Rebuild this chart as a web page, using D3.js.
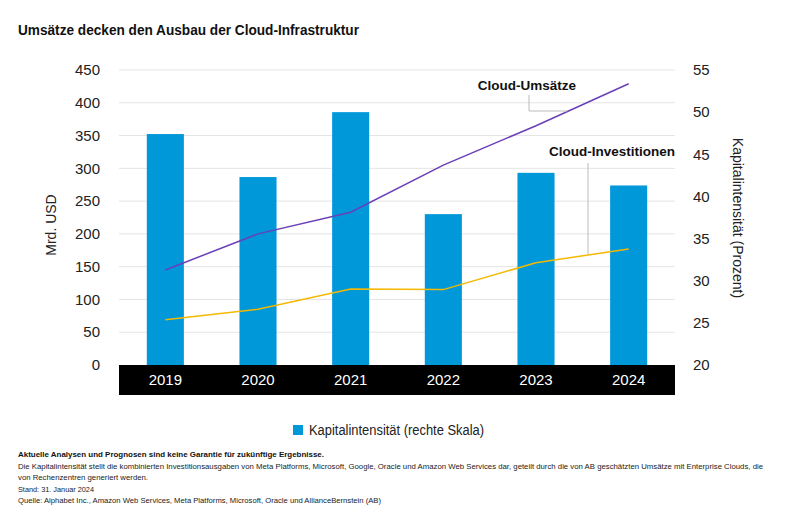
<!DOCTYPE html>
<html>
<head>
<meta charset="utf-8">
<script src="https://cdn.jsdelivr.net/npm/d3@7"></script>
<style>
  body { margin: 0; background: #fff; }
  text { font-family: "Liberation Sans", Arial, sans-serif; }
</style>
</head>
<body>
<div id="chart"></div>
<script>
// data
const years = ["2019", "2020", "2021", "2022", "2023", "2024"];
const kapitalintensitaet = [47.4, 42.3, 50.0, 37.9, 42.8, 41.3]; // rechte Skala, Prozent
const cloudUmsaetze = [145, 200, 233, 305, 365, 429]; // Mrd. USD
const cloudInvestitionen = [69, 85, 116, 115, 156, 177]; // Mrd. USD
const leftTicks = [0, 50, 100, 150, 200, 250, 300, 350, 400, 450];
const rightTicks = [20, 25, 30, 35, 40, 45, 50, 55];
const footnotes = [
  "Die Kapitalintensität stellt die kombinierten Investitionsausgaben von Meta Platforms, Microsoft, Google, Oracle und Amazon Web Services dar, geteilt durch die von AB geschätzten Umsätze mit Enterprise Clouds, die",
  "von Rechenzentren generiert werden.",
  "Stand: 31. Januar 2024",
  "Quelle: Alphabet Inc., Amazon Web Services, Meta Platforms, Microsoft, Oracle und AllianceBernstein (AB)"
];

const W = 790, H = 531;
const plotLeft = 119, plotRight = 675, plotTop = 70, plotBottom = 365;

const svg = d3.select("#chart").append("svg")
  .attr("width", W).attr("height", H);

// title
svg.append("text")
  .attr("x", 18).attr("y", 35)
  .attr("font-family", "'DejaVu Sans Condensed', 'DejaVu Sans', sans-serif")
  .attr("font-weight", "bold")
  .attr("font-size", 14)
  .attr("fill", "#111")
  .attr("textLength", 341)
  .attr("lengthAdjust", "spacingAndGlyphs")
  .text("Umsätze decken den Ausbau der Cloud-Infrastruktur");

const x = d3.scaleBand().domain(years).range([plotLeft, plotRight])
  .paddingInner(0.6).paddingOuter(0.3);
const yL = d3.scaleLinear().domain([0, 450]).range([plotBottom, plotTop]);
const yR = d3.scaleLinear().domain([20, 55]).range([plotBottom, plotTop]);

// gridlines
svg.append("g").selectAll("line")
  .data(leftTicks.slice(1))
  .enter().append("line")
  .attr("x1", plotLeft).attr("x2", plotRight)
  .attr("y1", (d) => yL(d)).attr("y2", (d) => yL(d))
  .attr("stroke", "#e4e4e4").attr("stroke-width", 1);

// left tick labels
svg.append("g").selectAll("text")
  .data(leftTicks)
  .enter().append("text")
  .attr("x", 100).attr("y", (d) => yL(d))
  .attr("dy", "0.35em")
  .attr("text-anchor", "end")
  .attr("font-size", 15)
  .attr("fill", "#222")
  .text((d) => d);

// right tick labels
svg.append("g").selectAll("text")
  .data(rightTicks)
  .enter().append("text")
  .attr("x", 693).attr("y", (d) => yR(d))
  .attr("dy", "0.35em")
  .attr("font-size", 15)
  .attr("fill", "#222")
  .text((d) => d);

// axis titles
svg.append("text")
  .attr("transform", "translate(56,225) rotate(-90)")
  .attr("text-anchor", "middle")
  .attr("font-size", 14)
  .attr("fill", "#222")
  .text("Mrd. USD");

svg.append("text")
  .attr("transform", "translate(733,218) rotate(90)")
  .attr("text-anchor", "middle")
  .attr("font-size", 14)
  .attr("fill", "#222")
  .text("Kapitalintensität (Prozent)");

// bars (rechte Skala)
svg.append("g").selectAll("rect")
  .data(kapitalintensitaet)
  .enter().append("rect")
  .attr("x", (d, i) => x(years[i]))
  .attr("y", (d) => yR(d))
  .attr("width", x.bandwidth())
  .attr("height", (d) => plotBottom - yR(d))
  .attr("fill", "#0098d9");

// black x-axis band
svg.append("rect")
  .attr("x", plotLeft).attr("y", plotBottom)
  .attr("width", plotRight - plotLeft).attr("height", 30)
  .attr("fill", "#000");

svg.append("g").selectAll("text")
  .data(years)
  .enter().append("text")
  .attr("x", (d) => x(d) + x.bandwidth() / 2)
  .attr("y", plotBottom + 15)
  .attr("dy", "0.35em")
  .attr("text-anchor", "middle")
  .attr("font-size", 15)
  .attr("fill", "#fff")
  .text((d) => d);

// lines
const line = d3.line()
  .x((d, i) => x(years[i]) + x.bandwidth() / 2)
  .y((d) => yL(d));

svg.append("path")
  .datum(cloudUmsaetze)
  .attr("d", line)
  .attr("fill", "none")
  .attr("stroke", "#6a3fb8")
  .attr("stroke-width", 1.5);

svg.append("path")
  .datum(cloudInvestitionen)
  .attr("d", line)
  .attr("fill", "none")
  .attr("stroke", "#f5b800")
  .attr("stroke-width", 1.5);

// annotations
svg.append("path")
  .attr("d", "M529,95V111H567")
  .attr("fill", "none")
  .attr("stroke", "#bbb");
svg.append("text")
  .attr("x", 527).attr("y", 85)
  .attr("dy", "0.35em")
  .attr("text-anchor", "middle")
  .attr("font-weight", "bold")
  .attr("font-size", 13.5)
  .attr("fill", "#111")
  .text("Cloud-Umsätze");

svg.append("path")
  .attr("d", "M588,163V254")
  .attr("fill", "none")
  .attr("stroke", "#bbb");
svg.append("text")
  .attr("x", 675).attr("y", 151)
  .attr("dy", "0.35em")
  .attr("text-anchor", "end")
  .attr("font-weight", "bold")
  .attr("font-size", 13.5)
  .attr("fill", "#111")
  .text("Cloud-Investitionen");

// legend
svg.append("rect")
  .attr("x", 293).attr("y", 425)
  .attr("width", 10).attr("height", 10)
  .attr("fill", "#0098d9");
svg.append("text")
  .attr("x", 309).attr("y", 430)
  .attr("dy", "0.35em")
  .attr("font-size", 14)
  .attr("fill", "#222")
  .attr("textLength", 175)
  .attr("lengthAdjust", "spacingAndGlyphs")
  .text("Kapitalintensität (rechte Skala)");

// footnotes
svg.append("text")
  .attr("x", 18).attr("y", 457)
  .attr("font-size", 8)
  .attr("font-weight", "bold")
  .attr("fill", "#111")
  .attr("textLength", 306)
  .attr("lengthAdjust", "spacingAndGlyphs")
  .text("Aktuelle Analysen und Prognosen sind keine Garantie für zukünftige Ergebnisse.");

const footLen = [745, 130, 76, 363];
svg.append("g").selectAll("text")
  .data(footnotes)
  .enter().append("text")
  .attr("x", 18)
  .attr("y", (d, i) => 468.5 + i * 11.5)
  .attr("font-size", 8)
  .attr("fill", "#222")
  .attr("textLength", (d, i) => footLen[i])
  .attr("lengthAdjust", "spacingAndGlyphs")
  .text((d) => d);
</script>
</body>
</html>
